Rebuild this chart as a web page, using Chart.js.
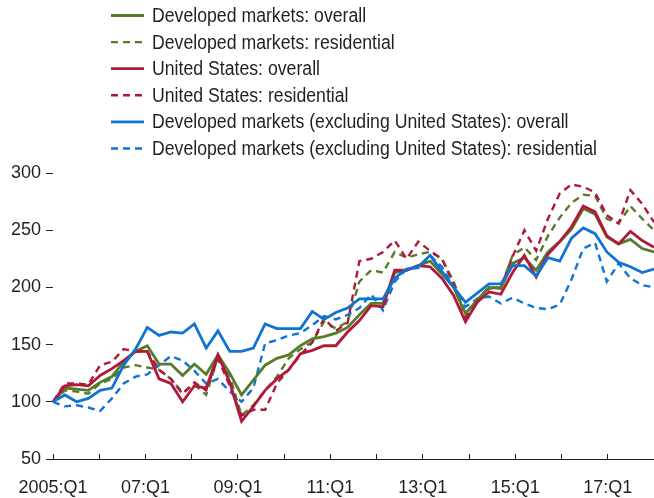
<!DOCTYPE html>
<html>
<head>
<meta charset="utf-8">
<script src="https://cdn.jsdelivr.net/npm/chart.js@4.4.1/dist/chart.umd.min.js"></script>
<style>
  html, body { margin: 0; padding: 0; background: #fff; }
  #wrap { width: 654px; height: 498px; }
</style>
</head>
<body>
<div id="wrap"><canvas id="chart" width="654" height="498"></canvas></div>
<script>
// Commercial real estate price indices, 2005:Q1 = 100 (quarterly, 2005:Q1 - 2017:Q4)
const dmOverall = [100, 112, 111, 110, 117, 122, 135, 144, 149, 133,
  133, 123, 133, 124, 141, 125, 106, 119, 132, 138,
  141, 149, 155, 157, 160, 165, 176, 186, 186, 213,
  215, 219, 223, 212, 200, 177, 189, 200, 199, 221,
  226, 215, 231, 240, 251, 269, 264, 244, 238, 242,
  234, 231];
const dmResidential = [100, 110, 109, 107, 116, 120, 130, 132, 130, 128,
  120, 108, 115, 106, 139, 123, 88, 97, 110, 122,
  138, 146, 152, 170, 164, 170, 205, 215, 213, 231,
  226, 229, 231, 225, 205, 177, 190, 200, 200, 228,
  235, 224, 245, 261, 274, 281, 280, 260, 256, 271,
  260, 250];
const usOverall = [100, 114, 115, 114, 123, 129, 136, 144, 144, 120,
  116, 100, 114, 112, 141, 117, 83, 96, 110, 120,
  128, 142, 145, 149, 149, 161, 171, 184, 183, 215,
  215, 219, 218, 208, 193, 170, 187, 196, 194, 213,
  228, 209, 229, 240, 253, 271, 266, 245, 238, 249,
  241, 235];
const usResidential = [100, 116, 116, 115, 132, 135, 146, 144, 144, 128,
  120, 107, 117, 110, 138, 114, 88, 93, 93, 116,
  128, 141, 152, 173, 162, 169, 223, 225, 231, 241,
  225, 240, 232, 225, 203, 174, 188, 199, 200, 227,
  250, 232, 260, 282, 290, 288, 283, 263, 256, 285,
  273, 257];
const exUsOverall = [100, 106, 100, 103, 110, 112, 132, 146, 165, 158,
  161, 160, 168, 147, 162, 144, 144, 147, 168, 164,
  164, 164, 179, 172, 178, 182, 190, 190, 190, 208,
  216, 218, 228, 214, 200, 187, 195, 203, 203, 219,
  219, 210, 226, 223, 243, 252, 247, 231, 222, 218,
  213, 216];
const exUsResidential = [100, 96, 97, 95, 92, 103, 116, 122, 124, 132,
  140, 136, 127, 116, 120, 109, 100, 112, 151, 154,
  158, 160, 167, 175, 172, 176, 182, 194, 180, 205,
  216, 217, 228, 218, 200, 183, 190, 192, 186, 191,
  186, 182, 181, 185, 207, 234, 239, 205, 221, 208,
  202, 200];

// Axis labels (one printed every two years)
const tickLabels = ['2005:Q1', '07:Q1', '09:Q1', '11:Q1', '13:Q1', '15:Q1', '17:Q1'];

// Quarter names: data runs to 2017:Q4, the printed axis to 2018:Q1
const quarters = [];
for (let y = 2005; y <= 2017; y++) {
  for (let q = 1; q <= 4; q++) quarters.push(y + ':Q' + q);
}
const axisQuarters = quarters.concat(['2018:Q1']);

const COLORS = {
  green: '#557c2b',
  red: '#b0193a',
  blue: '#0f73d3',
  text: '#231f20'
};
const FONT = "'Liberation Sans', Arial, sans-serif";
const DASH = [7, 5];

Chart.defaults.font.family = FONT;
Chart.defaults.font.size = 18;
Chart.defaults.color = COLORS.text;

function series(label, data, color, dashed, order) {
  return {
    label: label,
    data: data,
    xAxisID: 'x',
    borderColor: color,
    backgroundColor: color,
    borderWidth: dashed ? 2.4 : 2.8,
    borderDash: dashed ? DASH : [],
    pointRadius: 0,
    tension: 0,
    fill: false,
    order: order
  };
}

// Legend drawn as a single column above the plot, text squeezed like a condensed face
const columnLegend = {
  id: 'columnLegend',
  afterDraw: (chart) => {
    const ctx = chart.ctx;
    const labels = chart.data.datasets.map(ds => ds.label);
    ctx.save();
    ctx.font = '20px ' + FONT;
    const widest = Math.max(...labels.map(l => ctx.measureText(l).width));
    const squeeze = 445 / widest;
    chart.data.datasets.forEach((ds, i) => {
      const y = 15.5 + i * 26.6;
      ctx.beginPath();
      ctx.setLineDash(ds.borderDash || []);
      ctx.strokeStyle = ds.borderColor;
      ctx.lineWidth = ds.borderWidth;
      ctx.moveTo(111, y);
      ctx.lineTo(144, y);
      ctx.stroke();
      ctx.setLineDash([]);

      ctx.save();
      ctx.translate(152, y + 1);
      ctx.scale(squeeze, 1);
      ctx.fillStyle = COLORS.text;
      ctx.textBaseline = 'middle';
      ctx.textAlign = 'left';
      ctx.fillText(ds.label, 0, 0);
      ctx.restore();
    });
    ctx.restore();
  }
};

new Chart(document.getElementById('chart'), {
  type: 'line',
  data: {
    labels: quarters,
    datasets: [
      series('Developed markets: overall', dmOverall, COLORS.green, false, 2),
      series('Developed markets: residential', dmResidential, COLORS.green, true, 5),
      series('United States: overall', usOverall, COLORS.red, false, 1),
      series('United States: residential', usResidential, COLORS.red, true, 4),
      series('Developed markets (excluding United States): overall', exUsOverall, COLORS.blue, false, 0),
      series('Developed markets (excluding United States): residential', exUsResidential, COLORS.blue, true, 3)
    ]
  },
  options: {
    responsive: false,
    animation: false,
    layout: {
      padding: { left: 11, top: 173, right: 0, bottom: 0 }
    },
    plugins: {
      legend: { display: false },
      tooltip: { enabled: false }
    },
    scales: {
      x: {
        display: false,
        offset: false
      },
      xt: {
        type: 'category',
        position: 'bottom',
        labels: axisQuarters,
        offset: false,
        ticks: {
          autoSkip: false,
          maxRotation: 0,
          minRotation: 0,
          padding: 23,
          color: COLORS.text,
          callback: (value, index) => (index % 8 === 0 ? tickLabels[index / 8] : '')
        },
        grid: {
          drawOnChartArea: false,
          drawTicks: true,
          tickLength: -5,
          tickWidth: 1,
          tickColor: (ctx) => (ctx.index % 4 === 0 ? COLORS.text : 'rgba(0,0,0,0)')
        },
        border: { display: true, color: COLORS.text, width: 1 },
        afterFit: (scale) => {
          scale.height = 39;
          scale.paddingLeft = 0;
          scale.paddingRight = 0;
        }
      },
      y: {
        min: 50,
        max: 300,
        ticks: {
          stepSize: 50,
          padding: 5,
          color: COLORS.text
        },
        grid: {
          drawOnChartArea: false,
          drawTicks: true,
          tickLength: 7,
          tickWidth: 1,
          tickColor: COLORS.text
        },
        border: { display: false },
        afterFit: (scale) => { scale.width = 42; }
      }
    }
  },
  plugins: [columnLegend]
});
</script>
</body>
</html>
